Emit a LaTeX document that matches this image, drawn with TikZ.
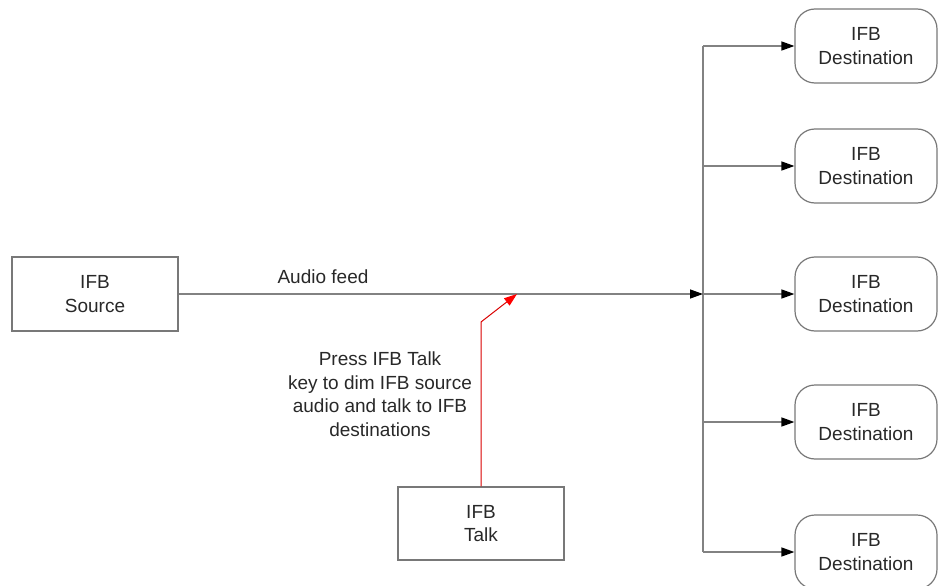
\documentclass[tikz,border=0pt]{standalone}
\usepackage{fontspec}
\setmainfont{Liberation Sans}
\usetikzlibrary{arrows.meta}
\definecolor{boxgray}{RGB}{120,120,120}
\definecolor{linegray}{RGB}{130,130,130}
\definecolor{txt}{RGB}{40,40,40}
\begin{document}
\begin{tikzpicture}[x=1pt,y=-1pt,
  lbl/.style={align=center, font=\fontsize{19}{23.5}\selectfont, text=txt, inner sep=0pt},
  box/.style={lbl, draw=boxgray, line width=1.2pt, minimum width=166pt, minimum height=74pt},
  dest/.style={box, rounded corners=20pt, minimum width=142pt},
  bus/.style={draw=linegray, line width=1.4pt},
  conn/.style={bus, -{Triangle[length=13pt,width=9pt,color=black]}},
  talkarrow/.style={draw=red!85!black, line width=1pt, -{Triangle[length=13pt,width=9pt,color=red]}}
]
\useasboundingbox (0,0) rectangle (938,586);
\node[box] (src) at (95,294) {IFB\\Source};
\node[box, minimum height=73pt] (talk) at (481,523.5) {IFB\\Talk};
\node[dest] (d1) at (866,46) {IFB\\Destination};
\node[dest] (d2) at (866,166) {IFB\\Destination};
\node[dest] (d3) at (866,294) {IFB\\Destination};
\node[dest] (d4) at (866,422) {IFB\\Destination};
\node[dest] (d5) at (866,552) {IFB\\Destination};
\node[lbl] (af) at (323,277) {Audio feed};
\node[lbl] (note) at (380,394) {Press IFB Talk\\key to dim IFB source\\audio and talk to IFB\\destinations};
\coordinate (bus) at (703,294);
\coordinate (bend) at (481,322);
\coordinate (rtip) at (517,294);
\draw[bus] (bus |- d1.west) -- (bus |- d5.west);
\draw[conn] (src.east) -- (bus);
\foreach \d in {d1,d2,d3,d4,d5} {\draw[conn] (bus |- \d.west) -- (\d.west);}
\draw[talkarrow] (talk.north) -- (bend) -- (rtip);
\end{tikzpicture}
\end{document}
